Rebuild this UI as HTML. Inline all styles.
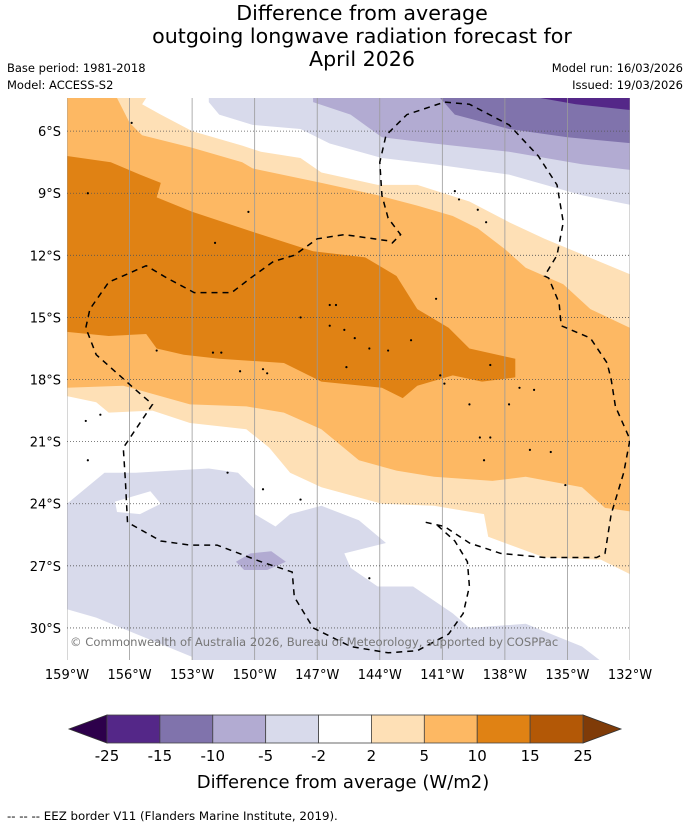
<!DOCTYPE html>
<html><head><meta charset="utf-8"><style>
html,body{margin:0;padding:0;background:#fff;}
svg{display:block;font-family:"DejaVu Sans","Liberation Sans",sans-serif;}
</style></head><body>
<svg id="chart" width="690" height="827" viewBox="0 0 690 827">
<g font-size="20.6" text-anchor="middle" fill="#000">
<text x="362" y="20">Difference from average</text>
<text x="362" y="43">outgoing longwave radiation forecast for</text>
<text x="362" y="66">April 2026</text>
</g>
<text x="7" y="72" font-size="11.5">Base period: 1981-2018</text>
<text x="7" y="89" font-size="11.5">Model: ACCESS-S2</text>
<text x="683" y="72" font-size="11.5" text-anchor="end">Model run: 16/03/2026</text>
<text x="683" y="89" font-size="11.5" text-anchor="end">Issued: 19/03/2026</text>
<defs><clipPath id="mapclip"><rect x="67" y="98" width="563" height="562"/></clipPath></defs>
<g id="map" clip-path="url(#mapclip)">
<rect x="67" y="98" width="563" height="562" fill="#fff"/>
<g id="fills"></g><g id="grid"></g><g id="islands"></g><g id="eez"></g>
</g>
<text x="70" y="646" font-size="11.6" fill="#777">© Commonwealth of Australia 2026, Bureau of Meteorology, supported by COSPPac</text>
<g id="latlabels" font-size="13" text-anchor="end"></g>
<g id="lonlabels" font-size="13" text-anchor="middle"></g>
<g id="colorbar"></g>
<text x="343" y="788" font-size="18" text-anchor="middle">Difference from average (W/m2)</text>
<text x="7" y="820" font-size="11.8">--  --  -- EEZ border V11 (Flanders Marine Institute, 2019).</text>
</svg>
<script>
// Map extent
const lonMin=-159, lonMax=-132, latTop=-4.4, latBot=-31.55;
const latTicks=[-6,-9,-12,-15,-18,-21,-24,-27,-30];
const lonTicks=[-159,-156,-153,-150,-147,-144,-141,-138,-135,-132];
// contour regions [lon, lat]
const lightOrange=[[-160,-4],[-155.2,-4],[-155.2,-4.4],[-155.4,-4.7],[-154.5,-5.2],[-153.0,-6.0],[-150.6,-6.7],[-149.7,-7.0],[-147.8,-7.3],[-146.8,-8.0],[-144.1,-8.6],[-142.2,-8.6],[-139.7,-9.4],[-137.8,-10.4],[-136.1,-11.2],[-131.8,-13.0],[-131,-13],[-131,-27.5],[-131.8,-27.5],[-133.4,-26.7],[-136.1,-26.6],[-138.8,-25.6],[-139.0,-24.5],[-141.4,-24.1],[-143.9,-24.0],[-146.8,-23.2],[-148.3,-22.5],[-149.3,-21.3],[-150.4,-20.4],[-153.1,-20.1],[-154.9,-19.5],[-157.0,-19.6],[-157.6,-19.1],[-159,-18.8],[-160,-18.8]];
const orange=[[-160,-4],[-156.6,-4],[-156.6,-4.4],[-156.0,-5.6],[-155.4,-6.2],[-153.0,-6.8],[-150.6,-7.5],[-150.1,-7.8],[-146.8,-8.5],[-144.1,-9.1],[-142.2,-9.6],[-140.5,-10.1],[-139.3,-10.7],[-138.0,-11.7],[-137.0,-12.6],[-135.2,-13.4],[-133.9,-14.6],[-131.8,-15.6],[-131,-15.6],[-131,-24.4],[-131.8,-24.4],[-133.2,-24.2],[-134.3,-23.2],[-137.0,-22.7],[-138.6,-22.9],[-141.4,-22.7],[-143.2,-22.4],[-145.0,-21.9],[-146.8,-20.4],[-148.6,-19.6],[-150.4,-19.3],[-153.1,-19.2],[-156.3,-18.3],[-159,-18.4],[-160,-18.4]];
const darkOrange=[[-160,-7.2],[-159,-7.2],[-156.9,-7.5],[-155.5,-8.1],[-154.5,-8.5],[-154.7,-9.2],[-153.0,-9.9],[-150.0,-10.9],[-147.2,-11.8],[-144.7,-12.1],[-143.2,-13.0],[-142.2,-14.6],[-140.7,-15.5],[-139.7,-16.5],[-137.5,-17.0],[-137.5,-17.9],[-139.1,-18.1],[-140.5,-17.8],[-142.2,-18.3],[-142.9,-18.9],[-143.9,-18.4],[-146.8,-18.1],[-148.6,-17.2],[-151.7,-17.0],[-153.4,-16.8],[-154.7,-16.5],[-155.2,-15.8],[-157.0,-15.9],[-159,-15.7],[-160,-15.7]];
const purpleLight=[[-152.2,-4],[-152.2,-4.6],[-151.7,-5.2],[-150.1,-5.7],[-147.8,-5.9],[-146.4,-6.6],[-143.9,-7.3],[-141.4,-7.6],[-137.8,-8.1],[-134.3,-9.1],[-131.8,-9.6],[-131,-9.6],[-131,-4]];
const purpleMid=[[-147.2,-4],[-147.2,-4.6],[-145.4,-5.2],[-143.9,-6.3],[-141.4,-6.6],[-137.8,-7.0],[-134.3,-7.6],[-131.8,-7.9],[-131,-7.9],[-131,-4]];
const purpleStrong=[[-141.1,-4],[-141.1,-4.4],[-140.4,-5.2],[-137.8,-5.9],[-135.0,-6.3],[-131.8,-6.6],[-131,-6.6],[-131,-4]];
const purpleDark=[[-136.3,-4],[-136.3,-4.4],[-134.6,-4.7],[-131.8,-5.0],[-131,-5],[-131,-4]];
const purpleSouth=[[-160,-24.0],[-159,-24.0],[-157.2,-22.5],[-155.7,-22.5],[-154.0,-22.4],[-152.2,-22.3],[-150.8,-22.5],[-150.0,-23.3],[-150.0,-24.5],[-149.0,-25.1],[-148.3,-24.5],[-146.8,-24.1],[-145.0,-24.8],[-143.7,-25.9],[-145.7,-26.4],[-145.4,-27.1],[-144.1,-28.0],[-142.4,-28.0],[-140.5,-29.3],[-139.7,-30.0],[-137.0,-29.8],[-134.3,-30.9],[-133.4,-31.6],[-133.4,-32],[-153.0,-32],[-153.0,-31.4],[-157.6,-29.5],[-159,-29.1],[-160,-29.1]];
const whiteNotch=[[-156.7,-23.9],[-155.0,-23.4],[-154.5,-24.0],[-155.5,-24.5],[-156.6,-24.4]];
const purpleBlob=[[-150.9,-26.8],[-150.2,-26.4],[-149.2,-26.3],[-148.5,-26.8],[-149.4,-27.2],[-150.5,-27.2]];
const eezLine=[[-141.8,-24.9],[-140.9,-25.1],[-139.7,-25.9],[-138.2,-26.4],[-136.1,-26.6],[-133.6,-26.6],[-133.2,-26.4],[-132.9,-24.5],[-132.3,-22.5],[-132.0,-20.9],[-132.7,-19.3],[-132.9,-18.0],[-133.1,-17.2],[-133.9,-16.0],[-135.3,-15.4],[-135.4,-14.3],[-135.9,-13.1],[-136.1,-13.0],[-135.5,-12.0],[-135.2,-10.4],[-135.5,-8.6],[-136.4,-7.2],[-137.8,-5.7],[-139.7,-4.7],[-140.9,-4.6],[-142.7,-5.2],[-143.7,-6.2],[-144.0,-7.5],[-143.9,-9.1],[-143.6,-10.2],[-143.0,-11.0],[-143.4,-11.4],[-143.6,-11.3],[-145.7,-11.0],[-147.0,-11.2],[-148.1,-12.0],[-149.1,-12.3],[-150.2,-13.1],[-151.1,-13.8],[-152.9,-13.8],[-154.2,-13.1],[-155.2,-12.5],[-157.0,-13.3],[-157.9,-14.6],[-158.1,-15.5],[-157.6,-16.8],[-155.7,-18.5],[-154.9,-19.2],[-155.7,-20.4],[-156.3,-21.3],[-156.2,-22.9],[-156.1,-24.9],[-154.5,-25.8],[-153.1,-26.0],[-151.8,-26.0],[-149.7,-26.8],[-148.2,-27.3],[-148.1,-28.5],[-147.2,-30.0],[-145.4,-30.9],[-143.6,-31.2],[-142.2,-31.1],[-140.7,-30.3],[-140.0,-29.3],[-139.7,-28.0],[-139.8,-26.8],[-140.4,-25.8],[-141.4,-24.9]];
const islands=[[-146.4,-14.4],[-146.1,-14.4],[-147.8,-15.0],[-146.4,-15.4],[-145.7,-15.6],[-145.2,-16.0],[-144.5,-16.5],[-143.6,-16.6],[-142.5,-16.1],[-145.6,-17.4],[-141.1,-17.8],[-140.9,-18.2],[-138.7,-17.3],[-137.3,-18.4],[-136.6,-18.5],[-141.3,-14.1],[-140.4,-8.9],[-140.2,-9.3],[-139.3,-9.8],[-138.9,-10.4],[-152.0,-16.7],[-151.6,-16.7],[-150.7,-17.6],[-149.6,-17.5],[-149.4,-17.7],[-154.7,-16.6],[-158.0,-9.0],[-155.9,-5.6],[-150.3,-9.9],[-151.9,-11.4],[-149.6,-23.3],[-147.8,-23.8],[-151.3,-22.5],[-144.5,-27.6],[-139.7,-19.2],[-139.2,-20.8],[-138.7,-20.8],[-139.0,-21.9],[-136.8,-21.4],[-135.8,-21.5],[-135.1,-23.1],[-158.1,-20.0],[-157.4,-19.7],[-158.0,-21.9],[-137.8,-19.2]];
// colorbar
const cbLevels=[-25,-15,-10,-5,-2,2,5,10,15,25];
const cbColors=["#542788","#8073ac","#b2abd2","#d8daeb","#ffffff","#fee0b6","#fdb863","#e08214","#b35806"];
const cbUnder="#2d004b", cbOver="#7f3b08";

const NS="http://www.w3.org/2000/svg";
const X0=67,X1=630,Y0=98,Y1=660;
function px(lon){return X0+(lon-lonMin)/(lonMax-lonMin)*(X1-X0);}
function py(lat){return Y0+(latTop-lat)/(latTop-latBot)*(Y1-Y0);}
function mk(tag,attrs,parent){const e=document.createElementNS(NS,tag);for(const k in attrs)e.setAttribute(k,attrs[k]);parent.appendChild(e);return e;}
function pts(arr){return arr.map(p=>px(p[0]).toFixed(1)+","+py(p[1]).toFixed(1)).join(" ");}
const fills=document.getElementById("fills");
const layers=[[lightOrange,"#fee0b6","contour-2-to-5"],[orange,"#fdb863","contour-5-to-10"],[darkOrange,"#e08214","contour-10-to-15"],[purpleLight,"#d8daeb","contour-neg2-to-neg5-north"],[purpleMid,"#b2abd2","contour-neg5-to-neg10"],[purpleStrong,"#8073ac","contour-neg10-to-neg15"],[purpleDark,"#542788","contour-neg15-to-neg25"],[purpleSouth,"#d8daeb","contour-neg2-to-neg5-south"],[whiteNotch,"#ffffff","near-zero-patch"],[purpleBlob,"#b2abd2","contour-neg5-patch"]];
layers.forEach(l=>{
  const e=mk("polygon",{points:pts(l[0]),fill:l[1]},fills);
  
  
});
const grid=document.getElementById("grid");
lonTicks.forEach(v=>{
  const e=mk("line",{x1:px(v),x2:px(v),y1:Y0,y2:Y1,stroke:"#9a9a9a","stroke-width":0.8},grid);
  
  
});
latTicks.forEach(v=>{
  const e=mk("line",{x1:X0,x2:X1,y1:py(v),y2:py(v),stroke:"#555","stroke-width":0.8,"stroke-dasharray":"1,2"},grid);
  
  
});
const isl=document.getElementById("islands");
islands.forEach(p=>{
  const e=mk("circle",{cx:px(p[0]),cy:py(p[1]),r:1.1,fill:"#000"},isl);
  
  
});
const eez=mk("polyline",{points:pts(eezLine),fill:"none",stroke:"#000","stroke-width":1.5,"stroke-dasharray":"6,5"},document.getElementById("eez"));


const latG=document.getElementById("latlabels");
latTicks.forEach(v=>{
  const t=mk("text",{x:61,y:py(v)+5},latG);t.textContent=Math.abs(v)+"°S";
  
  
});
const lonG=document.getElementById("lonlabels");
lonTicks.forEach(v=>{
  const t=mk("text",{x:px(v),y:679},lonG);t.textContent=Math.abs(v)+"°W";
  
  
});
// colorbar
const cb=document.getElementById("colorbar");
const CB0=107,CB1=583,CY0=715,CY1=743,segW=(CB1-CB0)/cbColors.length;
const under=mk("polygon",{points:`${CB0},${CY0} ${CB0},${CY1} 69,${(CY0+CY1)/2}`,fill:cbUnder,stroke:"#333","stroke-width":0.8},cb);


const over=mk("polygon",{points:`${CB1},${CY0} ${CB1},${CY1} 621,${(CY0+CY1)/2}`,fill:cbOver,stroke:"#333","stroke-width":0.8},cb);


cbColors.forEach((c,i)=>{
  const r=mk("rect",{x:CB0+i*segW,y:CY0,width:segW,height:CY1-CY0,fill:c,stroke:"#444","stroke-width":0.8},cb);
  
  
});
cbLevels.forEach((v,i)=>{
  const t=mk("text",{x:CB0+i*segW,y:761,"font-size":15,"text-anchor":"middle"},cb);t.textContent=v;
  
  
});
</script>
</body></html>
